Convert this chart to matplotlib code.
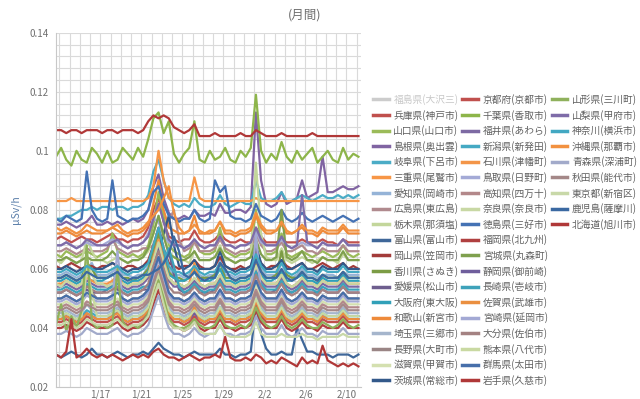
import pandas as pd
import matplotlib
matplotlib.use("Agg")
import matplotlib.pyplot as plt
import matplotlib.dates as mdates
from matplotlib.lines import Line2D
from matplotlib.ticker import MultipleLocator, FuncFormatter

plt.rcParams['font.family'] = ['Noto Sans CJK JP', 'DejaVu Sans']

# 12-hourly readings (units: 0.001 uSv/h), 1/12 16:00 -> 2/11 04:00
times = pd.date_range("2013-01-12 16:00", periods=60, freq="12h")

hyogo     = [70,71,70,69,70,71,70,70,69,70, 71,72,70,70,69,70,70,71,74,80, 84,76,71,70,69,70,70,73,70,69, 69,70,72,70,69,69,70,69,69,74, 71,69,69,69,70,69,69,69,70,69, 69,69,70,69,69,68,70,69,69,69]
yamaguchi = [65,64,66,65,64,65,66,65,64,65, 66,72,66,65,64,65,64,65,68,75, 86,78,68,66,65,64,65,70,66,65, 65,66,74,66,65,64,65,65,66,80, 70,65,65,66,72,65,64,65,66,65, 64,65,66,65,64,65,68,65,64,65]
shimane   = [75,75,76,75,74,75,76,78,75,75, 76,75,76,75,76,77,76,77,80,88, 92,84,79,77,77,78,77,80,78,78, 79,78,82,79,79,80,80,79,81,113, 90,82,81,82,86,82,83,84,90,84, 85,86,98,86,86,87,88,87,87,88]
gifu      = [77,77,78,78,79,80,80,81,80,81, 81,80,81,81,80,81,81,82,85,93, 97,90,84,82,81,82,81,84,82,81, 81,82,85,82,81,82,83,82,82,90, 84,83,83,84,86,83,83,84,85,84, 83,84,85,84,84,85,84,85,84,85]
mie       = [83,83,83,84,83,83,83,83,83,83, 83,83,83,83,84,83,83,83,84,88, 100,90,84,83,83,83,83,91,84,83, 83,83,83,83,83,83,83,83,83,84, 83,83,83,83,83,83,83,83,83,83, 83,83,83,83,83,83,83,83,83,83]
aichi     = [58,58,59,58,57,58,60,62,58,58, 58,59,61,58,58,57,58,58,61,66, 72,66,60,58,58,57,58,60,58,57, 58,58,63,58,58,57,58,58,58,66, 60,58,58,58,62,58,57,58,60,58, 58,57,58,58,58,57,59,58,58,58]
hiroshima = [66,66,67,66,65,66,67,66,66,66, 67,70,67,66,65,66,66,67,67,68, 70,72,76,80,70,66,67,69,66,66, 66,67,70,67,66,65,66,66,67,72, 68,66,66,67,69,66,66,67,68,66, 66,65,67,66,66,66,68,66,66,66]
tochigi   = [63,62,64,63,62,63,70,66,63,63, 62,63,64,63,62,63,63,64,66,72, 78,72,66,64,63,63,62,66,63,63, 63,64,68,63,63,62,63,63,64,96, 72,64,63,63,67,63,62,63,64,63, 62,63,64,63,63,62,65,63,63,63]
toyama    = [31,30,31,32,31,30,31,33,31,31, 30,31,32,31,30,31,31,32,31,33, 35,33,32,31,31,30,31,32,31,31, 31,31,33,31,31,30,31,31,32,48, 38,33,31,31,32,31,31,40,36,32, 32,31,31,31,30,31,31,31,30,31]
okayama   = [61,60,61,62,61,60,61,61,60,61, 61,62,61,60,61,61,60,61,63,68, 74,67,62,61,60,61,61,63,61,60, 60,61,64,61,60,60,61,60,61,66, 62,60,61,61,63,61,60,61,62,60, 60,61,62,61,60,61,62,60,61,60]
kagawa    = [57,57,58,57,56,57,62,60,57,57, 57,58,59,57,57,56,57,58,60,66, 72,65,59,57,57,56,57,60,57,57, 57,58,62,57,57,56,57,57,58,64, 59,57,57,58,66,58,57,57,59,57, 57,56,58,57,57,57,59,57,57,57]
ehime     = [52,52,53,52,51,52,53,52,52,52, 53,55,53,52,51,52,52,53,53,54, 56,60,66,58,53,52,52,55,52,52, 52,53,56,52,52,51,52,52,53,58, 54,52,52,53,55,52,52,53,54,52, 52,52,53,52,52,52,54,52,52,52]
osaka     = [56,56,57,56,55,56,57,56,56,56, 57,58,57,56,55,56,56,57,59,64, 70,64,58,57,56,56,57,59,56,56, 56,57,60,56,56,55,56,56,57,62, 58,56,56,57,59,56,56,57,58,56, 56,55,57,56,56,56,58,56,56,56]
wakayama  = [72,72,73,72,71,72,73,72,72,72, 73,74,73,72,71,72,72,73,75,82, 90,80,74,73,72,72,73,78,72,72, 72,73,76,72,72,71,72,72,73,78, 74,72,72,73,75,72,72,73,74,72, 72,71,73,72,72,72,74,72,72,72]
saitama   = [45,45,46,45,44,45,48,46,45,45, 45,46,47,45,44,45,45,46,48,55, 60,54,47,45,45,44,45,47,45,44, 45,45,49,45,45,44,45,45,46,52, 47,45,45,45,48,45,44,45,47,45, 45,44,46,45,45,45,47,45,45,45]
nagano    = [50,50,51,50,49,50,55,52,50,50, 50,51,58,50,49,50,50,51,53,58, 64,58,52,50,50,49,50,52,50,49, 50,50,53,50,50,49,50,50,51,56, 52,50,50,50,53,50,49,50,52,50, 50,49,51,50,50,50,52,50,50,50]
shiga     = [48,48,49,48,47,48,52,50,48,48, 48,49,50,48,47,48,48,49,51,57, 62,56,50,48,48,47,48,50,48,47, 48,48,52,48,48,47,48,48,49,55, 50,48,48,48,51,48,47,48,50,48, 48,47,49,48,48,48,50,48,48,48]
ibaraki   = [60,60,61,60,59,60,61,60,60,60, 61,62,61,60,59,60,60,61,62,63, 66,72,78,68,61,60,61,63,60,60, 60,61,66,61,60,59,60,60,61,68, 62,60,60,61,63,60,60,61,62,60, 60,59,61,60,60,60,62,60,60,60]
kyoto     = [42,42,43,42,41,42,44,43,42,42, 42,43,44,42,41,42,42,43,45,50, 56,50,44,42,42,41,42,44,42,41, 42,42,45,42,42,41,42,42,43,48, 44,42,42,42,45,42,41,42,44,42, 42,41,43,42,42,42,44,42,42,42]
chiba     = [98,101,97,95,100,97,96,101,99,96, 100,96,97,101,99,97,101,98,104,111, 113,106,110,99,96,99,101,110,97,96, 100,97,98,101,97,96,100,98,101,119, 100,96,99,97,103,98,96,100,97,99, 101,96,98,100,97,96,101,97,99,98]
fukui     = [54,54,55,54,53,54,56,55,54,54, 54,55,57,54,53,54,54,55,57,63, 68,62,56,54,54,53,54,56,54,53, 54,54,57,54,54,53,54,54,55,60, 56,54,54,54,57,54,53,54,56,54, 54,53,55,54,54,54,56,54,54,54]
niigata   = [44,44,45,44,43,44,46,45,44,44, 44,45,46,44,43,44,44,45,47,53, 58,52,46,44,44,43,44,46,44,43, 44,44,47,44,44,43,44,44,45,50, 46,44,44,44,47,44,43,44,46,44, 44,43,45,44,44,44,46,44,44,44]
ishikawa  = [55,55,56,55,54,55,57,56,55,55, 55,56,58,55,54,55,55,56,58,64, 70,63,57,55,55,54,55,62,55,54, 55,55,58,55,55,54,55,55,56,62, 57,55,55,55,58,55,54,55,57,55, 55,54,56,55,55,55,57,55,55,55]
tottori   = [68,68,69,68,67,68,69,68,68,68, 69,70,69,68,67,68,68,69,72,77, 76,71,69,68,68,67,68,70,68,67, 68,68,71,68,68,67,68,68,69,73, 69,68,68,68,70,68,67,68,69,68, 68,67,69,68,68,68,70,68,68,68]
kochi     = [47,47,48,47,46,47,49,48,47,47, 47,48,49,47,46,47,47,48,50,56, 61,55,49,47,47,46,47,49,47,46, 47,47,50,47,47,46,47,47,48,53, 49,47,47,47,50,47,46,47,49,47, 47,46,48,47,47,47,49,47,47,47]
nara      = [55,54,56,55,54,55,62,58,55,55, 54,55,56,55,54,55,55,56,58,63, 69,62,57,55,55,54,55,57,55,54, 55,55,58,55,55,54,55,55,56,61, 57,55,55,55,58,55,54,55,57,55, 55,54,56,55,55,55,57,55,55,55]
tokushima = [77,76,78,77,76,77,93,80,77,76, 77,90,78,77,76,77,77,78,80,86, 88,82,78,77,76,77,77,80,77,76, 77,90,86,88,78,77,77,76,77,82, 78,77,76,77,80,77,76,77,79,77, 76,77,78,77,76,77,78,77,76,77]
fukuoka   = [40,40,41,40,39,40,42,41,40,40, 40,41,42,40,39,40,40,41,43,48, 53,47,42,40,40,39,40,42,40,39, 40,40,43,40,40,39,40,40,41,46, 42,40,40,40,43,40,39,40,42,40, 40,39,41,40,40,40,42,40,40,40]
miyagi    = [63,63,64,63,62,63,64,63,63,63, 64,66,64,63,62,63,63,64,67,72, 78,71,65,64,63,63,64,66,63,63, 63,64,67,64,63,62,63,63,64,70, 65,63,63,64,80,64,63,64,66,63, 63,62,64,63,63,63,66,63,63,63]
shizuoka  = [43,43,44,43,42,43,45,44,43,43, 43,44,46,43,42,43,43,44,46,52, 57,51,45,43,43,42,43,45,43,42, 43,43,46,43,43,42,43,43,44,49, 45,43,43,43,46,43,42,43,45,43, 43,42,44,43,43,43,45,43,43,43]
nagasaki  = [53,53,54,53,52,53,55,54,53,53, 53,54,55,53,52,53,53,54,54,55, 57,62,67,61,54,52,53,55,53,52, 53,53,56,53,53,52,53,53,54,59, 55,53,53,53,56,53,52,53,55,53, 53,52,54,53,53,53,55,53,53,53]
saga      = [43,43,44,43,42,43,45,44,43,43, 43,44,45,43,42,43,43,44,46,51, 56,50,45,43,43,42,43,47,43,42, 43,43,46,43,43,42,43,43,44,49, 45,43,43,43,46,43,42,43,45,43, 43,42,44,43,43,43,45,43,43,43]
miyazaki  = [49,49,50,49,48,49,51,50,49,49, 49,50,66,49,48,49,49,50,52,58, 63,57,51,49,49,48,49,51,49,48, 49,49,52,49,49,48,49,49,50,72, 51,49,49,49,52,49,48,49,51,49, 49,48,50,49,49,49,51,49,49,49]
oita      = [52,52,53,52,51,52,54,53,52,52, 52,53,54,52,51,52,52,53,55,61, 66,60,54,52,52,51,52,54,52,51, 52,52,55,52,52,51,52,52,53,58, 54,52,52,52,55,52,51,52,54,52, 52,51,53,52,52,52,54,52,52,52]
kumamoto  = [44,44,45,44,43,44,60,52,44,44, 44,45,46,44,43,44,44,45,47,53, 58,52,46,44,44,43,44,46,44,43, 44,44,47,44,44,43,44,44,45,50, 46,44,44,44,47,44,43,44,46,44, 44,43,45,44,44,44,46,44,44,44]
gunma     = [50,50,51,50,49,50,52,51,50,50, 50,51,52,50,49,50,50,51,53,59, 64,58,52,50,50,49,50,52,50,49, 50,50,53,50,50,49,50,50,51,56, 52,50,50,50,53,50,49,50,52,50, 50,49,51,50,50,50,52,50,50,50]
iwate     = [107,107,106,107,107,106,107,107,107,106, 107,107,106,107,107,107,106,107,110,112, 111,112,111,108,107,106,107,109,105,105, 105,106,105,105,105,105,106,105,105,107, 106,105,105,105,106,105,105,105,105,105, 106,105,105,105,105,105,105,105,105,105]
yamagata  = [41,48,39,44,40,46,68,42,40,41, 40,41,60,42,40,41,40,42,45,50, 56,50,43,41,40,40,41,43,41,40, 40,41,44,41,40,40,41,40,42,47, 43,41,40,41,44,41,40,41,43,41, 40,40,42,41,40,41,43,41,40,41]
yamanashi = [68,68,69,68,67,68,70,69,68,68, 68,69,70,68,67,68,68,69,71,77, 82,76,70,68,68,67,68,70,68,67, 68,68,71,68,68,67,68,68,69,74, 70,68,68,68,71,68,67,68,85,69, 68,67,69,68,68,68,70,68,68,68]
kanagawa  = [59,59,60,59,58,59,61,60,59,59, 59,60,61,59,58,59,59,60,62,68, 74,67,61,59,59,58,59,61,59,58, 59,59,62,59,59,58,59,59,60,65, 61,59,59,59,62,59,58,59,61,59, 59,58,60,59,59,59,61,59,59,59]
okinawa   = [74,73,74,73,72,73,75,74,73,73, 73,74,75,73,72,73,73,74,76,78, 80,84,88,79,74,72,73,75,73,72, 73,73,76,73,73,72,73,73,74,79, 75,73,73,73,76,73,72,73,75,73, 73,72,74,73,73,73,75,73,73,73]
aomori    = [38,38,39,38,37,38,40,39,38,38, 38,39,40,38,37,38,38,39,41,46, 51,45,40,38,38,37,38,40,38,37, 38,38,41,38,38,37,38,38,39,44, 40,38,38,38,41,38,37,38,40,38, 38,37,39,38,38,38,40,38,38,38]
akita     = [46,46,47,46,45,46,48,47,46,46, 46,47,48,46,45,46,46,47,49,55, 60,54,48,46,46,45,46,48,46,45, 46,46,49,46,46,45,46,46,47,52, 48,46,46,46,49,46,45,46,48,46, 46,45,47,46,46,46,48,46,46,46]
tokyo     = [41,41,42,41,40,41,43,42,41,41, 41,42,43,41,40,41,41,42,44,50, 55,48,42,40,40,39,40,42,39,38, 38,38,41,38,37,37,37,37,38,42, 38,37,37,37,38,37,37,37,38,37, 37,36,37,37,37,37,38,37,37,37]
kagoshima = [57,57,58,57,56,57,59,58,57,57, 57,58,59,57,56,57,57,58,58,59, 60,62,65,71,66,58,57,59,57,56, 57,57,62,60,57,56,57,57,58,63, 59,57,57,57,60,57,56,57,59,57, 57,56,58,57,57,57,59,57,57,57]
hokkaido  = [31,30,32,43,30,31,33,31,30,31, 30,31,30,29,30,31,30,31,30,32, 33,31,30,30,29,30,31,30,29,30, 30,31,30,37,30,29,29,30,29,31, 30,28,29,28,30,29,28,27,30,28, 29,28,34,29,28,27,28,27,28,27]

series = [
    ("兵庫県(神戸市)", hyogo, "#C0504D"), ("山口県(山口市)", yamaguchi, "#9BBB59"),
    ("島根県(奥出雲)", shimane, "#8064A2"), ("岐阜県(下呂市)", gifu, "#4BACC6"),
    ("三重県(尾鷲市)", mie, "#F79646"), ("愛知県(岡崎市)", aichi, "#95B3D7"),
    ("広島県(東広島)", hiroshima, "#B08A8E"), ("栃木県(那須塩)", tochigi, "#C3D69B"),
    ("富山県(富山市)", toyama, "#3F6799"), ("岡山県(笠岡市)", okayama, "#A33B3A"),
    ("香川県(さぬき)", kagawa, "#7C9C45"), ("愛媛県(松山市)", ehime, "#6E5E8E"),
    ("大阪府(東大阪)", osaka, "#31A0B8"), ("和歌山(新宮市)", wakayama, "#EE8A3A"),
    ("埼玉県(三郷市)", saitama, "#A5B5CC"), ("長野県(大町市)", nagano, "#9A8585"),
    ("滋賀県(甲賀市)", shiga, "#D4E0B0"), ("茨城県(常総市)", ibaraki, "#33598A"),
    ("京都府(京都市)", kyoto, "#C0504D"), ("千葉県(香取市)", chiba, "#8DB54A"),
    ("福井県(あわら)", fukui, "#7D6AA3"), ("新潟県(新発田)", niigata, "#45A9C3"),
    ("石川県(津幡町)", ishikawa, "#F39548"), ("鳥取県(日野町)", tottori, "#A4AAD6"),
    ("高知県(四万十)", kochi, "#B3888A"), ("奈良県(奈良市)", nara, "#C8D8A4"),
    ("徳島県(三好市)", tokushima, "#4472B4"), ("福岡県(北九州)", fukuoka, "#B04040"),
    ("宮城県(丸森町)", miyagi, "#7FA04E"), ("静岡県(御前崎)", shizuoka, "#6F5E9C"),
    ("長崎県(壱岐市)", nagasaki, "#3EA2BA"), ("佐賀県(武雄市)", saga, "#EA8F40"),
    ("宮崎県(延岡市)", miyazaki, "#A3A9D4"), ("大分県(佐伯市)", oita, "#A48282"),
    ("熊本県(八代市)", kumamoto, "#C9D9A2"), ("群馬県(太田市)", gunma, "#476FAA"),
    ("岩手県(久慈市)", iwate, "#B03838"), ("山形県(三川町)", yamagata, "#8FB15C"),
    ("山梨県(甲府市)", yamanashi, "#7E6CA8"), ("神奈川(横浜市)", kanagawa, "#42A8C2"),
    ("沖縄県(那覇市)", okinawa, "#F29140"), ("青森県(深浦町)", aomori, "#A2AACA"),
    ("秋田県(能代市)", akita, "#A48888"), ("東京都(新宿区)", tokyo, "#C8D8A8"),
    ("鹿児島(薩摩川)", kagoshima, "#3B69A2"), ("北海道(旭川市)", hokkaido, "#B03838"),
]

fig = plt.figure(figsize=(6.4, 3.99), dpi=100)
ax = fig.add_axes([0.0875, 0.030, 0.4766, 0.888])

# hidden series (福島) only shows in the legend, greyed out
handles = [Line2D([], [], color="#CCCCCC", lw=2.5)]
labels = ["福島県(大沢三)"]
for name, vals, col in series:
    ax.plot(times, [v / 1000 for v in vals], color=col, lw=1.6)
    handles.append(Line2D([], [], color=col, lw=2.5))
    labels.append(name)
# pad the third column so the legend fills 19 rows per column
while len(handles) < 57:
    handles.append(Line2D([], [], color="none"))
    labels.append("")

ax.set_ylim(0.02, 0.14)
ax.set_xlim(times[0], pd.Timestamp("2013-02-11 10:00"))
ax.yaxis.set_major_locator(MultipleLocator(0.02))
ax.yaxis.set_minor_locator(MultipleLocator(0.004))
ax.yaxis.set_major_formatter(FuncFormatter(lambda v, p: f"{v:g}"))
ax.xaxis.set_major_locator(mdates.DayLocator(bymonthday=[17, 21, 25, 29, 2, 6, 10]))
ax.xaxis.set_minor_locator(mdates.DayLocator())
ax.xaxis.set_major_formatter(FuncFormatter(lambda v, p: f"{mdates.num2date(v).month}/{mdates.num2date(v).day}"))
ax.grid(True, which="both", color="#DADADA", lw=0.8)
ax.set_axisbelow(True)
ax.tick_params(which="both", length=0, labelsize=7, labelcolor="#707070")
ax.tick_params(axis="x", pad=1.5)
ax.tick_params(axis="y", pad=5)
for s in ["top", "right"]:
    ax.spines[s].set_visible(False)
for s in ["left", "bottom"]:
    ax.spines[s].set_color("#C8C8C8")

fig.text(16 / 640, 1 - 210 / 399, "µSv/h", rotation=90, ha="center", va="center",
         fontsize=7.5, color="#5B7FAA")
fig.text(305 / 640, 1 - 15 / 399, "(月間)", ha="center", va="center", fontsize=9, color="#707070")

leg = fig.legend(handles, labels, ncol=3, loc="upper left", bbox_to_anchor=(373 / 640, 1 - 94 / 399),
                 frameon=False, fontsize=7, handlelength=1.6, handletextpad=0.5,
                 columnspacing=0.4, labelspacing=0.48, borderpad=0, borderaxespad=0)
for i, t in enumerate(leg.get_texts()):
    t.set_color("#C8C8C8" if i == 0 else "#606060")

fig.savefig("out.png", dpi=100)
